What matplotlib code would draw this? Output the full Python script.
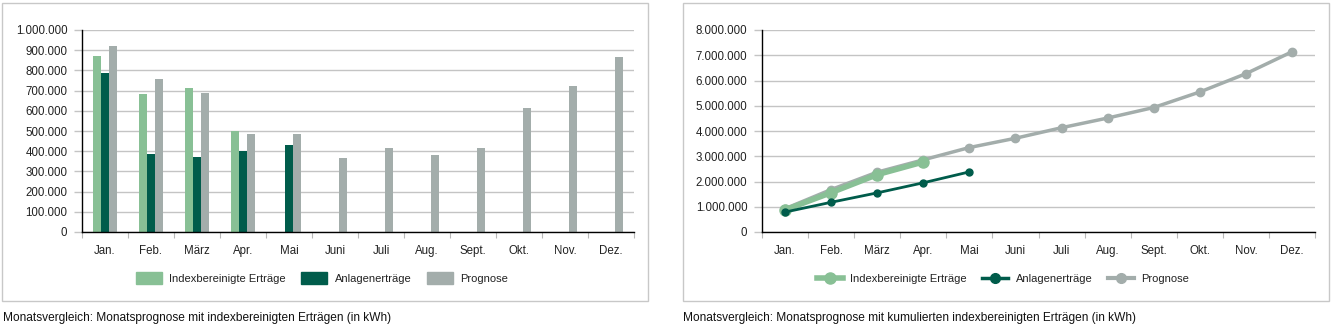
import matplotlib
matplotlib.use("Agg")
import matplotlib.pyplot as plt
from matplotlib.patches import Rectangle, Patch
from matplotlib.lines import Line2D
from matplotlib.ticker import FuncFormatter, MultipleLocator
import numpy as np

plt.rcParams['font.family'] = ['Liberation Sans', 'DejaVu Sans']

# Data
months = ['Jan.', 'Feb.', 'März', 'Apr.', 'Mai', 'Juni', 'Juli', 'Aug.', 'Sept.', 'Okt.', 'Nov.', 'Dez.']
index_month = [873000, 685000, 714000, 502000]
anlagen_month = [789000, 388000, 373000, 399000, 432000]
prognose_month = [922000, 759000, 690000, 487000, 487000, 368000, 417000, 383000, 417000, 615000, 724000, 868000]

index_cum = [873000, 1558000, 2272000, 2774000]
anlagen_cum = [789000, 1177000, 1550000, 1949000, 2381000]
prognose_cum = [922000, 1681000, 2371000, 2858000, 3345000, 3713000, 4130000, 4513000, 4930000, 5545000, 6269000, 7137000]

series_names = ['Indexbereinigte Erträge', 'Anlagenerträge', 'Prognose']
c_index = '#88c095'
c_anlagen = '#005c4b'
c_prognose = '#a3adab'
grid_c = '#c4c4c4'
fs = 8.3

W, H = 1334, 335
fig = plt.figure(figsize=(W / 100, H / 100), dpi=100)


def px_axes(x0, y0, x1, y1):
    return fig.add_axes([x0 / W, 1 - y1 / H, (x1 - x0) / W, (y1 - y0) / H])


def dot_fmt(v, pos):
    return f"{int(round(v)):,}".replace(',', '.')


def style_axis(ax, ymax, step):
    ax.set_xlim(0, 12)
    ax.set_ylim(0, ymax)
    ax.yaxis.set_major_locator(MultipleLocator(step))
    ax.yaxis.set_major_formatter(FuncFormatter(dot_fmt))
    ax.grid(axis='y', color=grid_c, lw=1)
    ax.set_axisbelow(True)
    for s in ['top', 'right']:
        ax.spines[s].set_visible(False)
    for s in ['left', 'bottom']:
        ax.spines[s].set_color('black')
        ax.spines[s].set_linewidth(1)
    ax.set_xticks(np.arange(13))
    ax.set_xticklabels([])
    ax.set_xticks(np.arange(12) + 0.5, minor=True)
    ax.set_xticklabels(months, minor=True)
    ax.tick_params(axis='x', which='major', length=4.5, color='#b8b8b8', direction='out')
    ax.tick_params(axis='x', which='minor', length=0, pad=9.5, labelsize=fs, labelcolor='#222222')
    ax.tick_params(axis='y', length=5.5, width=1, color=grid_c, pad=5, labelsize=fs, labelcolor='#222222')
    ax.set_facecolor('none')


# frames
fig.patches.append(Rectangle((2 / W, 1 - 301 / H), 646 / W, 298 / H, transform=fig.transFigure,
                             fill=False, edgecolor='#c8c8c8', lw=1))
fig.patches.append(Rectangle((683 / W, 1 - 301 / H), 646 / W, 298 / H, transform=fig.transFigure,
                             fill=False, edgecolor='#c8c8c8', lw=1))

# left: monthly bars
ax1 = px_axes(82, 30, 634, 232)
style_axis(ax1, 1000000, 100000)
x = np.arange(12) + 0.5
bw = 0.174
ax1.bar(x[:len(index_month)] - bw, index_month, width=bw, color=c_index)
ax1.bar(x[:len(anlagen_month)], anlagen_month, width=bw, color=c_anlagen)
ax1.bar(x + bw, prognose_month, width=bw, color=c_prognose)

h1 = [Patch(color=c) for c in (c_index, c_anlagen, c_prognose)]
fig.legend(h1, series_names, loc='center', bbox_to_anchor=(322 / W, 1 - 278 / H), ncol=3,
           frameon=False, fontsize=8, handlelength=2.35, handleheight=1.35, handletextpad=0.65,
           columnspacing=1.4, labelcolor='#222222')

# right: cumulative lines
ax2 = px_axes(762, 30, 1315, 232)
style_axis(ax2, 8000000, 1000000)
ax2.plot(x, prognose_cum, color=c_prognose, lw=2.5, marker='o', ms=6, clip_on=False)
ax2.plot(x[:len(index_cum)], index_cum, color=c_index, lw=4, marker='o', ms=8, clip_on=False)
ax2.plot(x[:len(anlagen_cum)], anlagen_cum, color=c_anlagen, lw=2, marker='o', ms=5, clip_on=False)

h2 = [Line2D([], [], color=c_index, lw=4, marker='o', ms=8),
      Line2D([], [], color=c_anlagen, lw=2.5, marker='o', ms=7),
      Line2D([], [], color=c_prognose, lw=3, marker='o', ms=7)]
fig.legend(h2, series_names, loc='center', bbox_to_anchor=(1003 / W, 1 - 279 / H), ncol=3,
           frameon=False, fontsize=8, handlelength=2.35, handletextpad=0.65,
           columnspacing=1.4, labelcolor='#222222')

fig.text(3 / W, 1 - 318 / H, 'Monatsvergleich: Monatsprognose mit indexbereinigten Erträgen (in kWh)',
         fontsize=8.6, va='center', ha='left', color='#111111')
fig.text(683 / W, 1 - 318 / H, 'Monatsvergleich: Monatsprognose mit kumulierten indexbereinigten Erträgen (in kWh)',
         fontsize=8.6, va='center', ha='left', color='#111111')

fig.savefig('out.png', dpi=100, facecolor='white')
